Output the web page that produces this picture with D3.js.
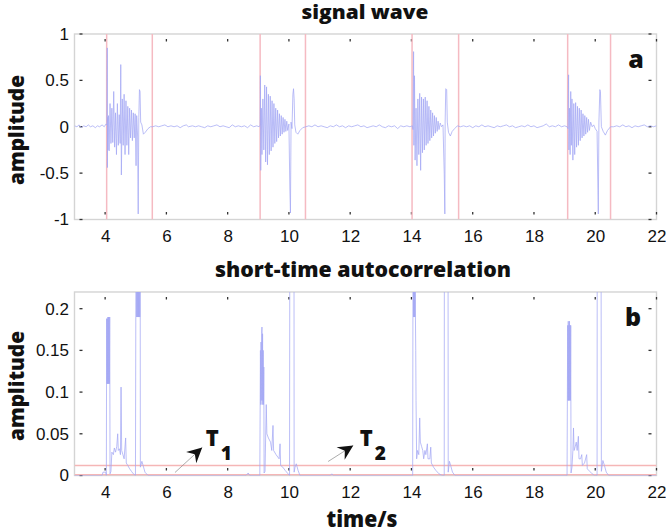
<!DOCTYPE html>
<html><head><meta charset="utf-8">
<script src="https://cdn.jsdelivr.net/npm/d3@7"></script>
<style>body{margin:0;background:#fff}</style>
</head><body>
<svg id="c" width="666" height="532" xmlns="http://www.w3.org/2000/svg"></svg>
<script>
// ---------- data ----------
const xTicks = [4,6,8,10,12,14,16,18,20,22];
const yTicksA = [-1,-0.5,0,0.5,1];
const yTicksB = [0,0.05,0.1,0.15,0.2];
const onsetLines = [4.05,5.54,9.06,10.54,14.02,15.54,19.10,20.50];
const thresholds = [0.001,0.012];

const signalWave = [
[3.00,0.01],[3.08,0.00],[3.15,0.02],[3.22,-0.01],[3.30,0.01],[3.38,0.00],[3.45,0.02],[3.52,0.00],[3.60,0.01],[3.68,-0.01],[3.75,0.01],[3.82,0.00],[3.90,0.02],[3.97,0.00],[4.03,0.03],
[4.06,0.02],[4.07,0.85],[4.075,-0.44],[4.08,0.10],[4.09,-0.25],[4.11,0.12],[4.13,-0.26],[4.16,0.25],[4.19,-0.18],[4.22,0.20],[4.25,-0.17],[4.28,0.38],[4.31,-0.22],[4.34,0.15],[4.37,-0.30],[4.40,0.25],[4.43,-0.20],[4.46,0.13],[4.49,-0.18],[4.51,0.67],[4.53,-0.52],[4.56,0.30],[4.59,-0.20],[4.62,0.35],[4.65,-0.30],[4.68,0.28],[4.71,-0.20],[4.74,0.22],[4.77,-0.30],[4.80,0.20],[4.83,-0.12],[4.86,0.18],[4.89,-0.15],[4.92,0.15],[4.95,-0.12],[4.98,0.14],[5.01,-0.42],[5.03,0.12],[5.06,-0.10],[5.08,-0.94],[5.10,0.10],[5.12,0.40],[5.14,0.38],[5.16,0.05],[5.20,0.02],[5.25,-0.08],[5.31,-0.06],[5.40,-0.02],[5.48,0.00],
[5.55,0.00],[5.65,0.01],[5.75,0.00],[5.85,0.01],[5.95,0.02],[6.05,0.00],[6.15,0.01],[6.25,0.00],[6.35,0.01],[6.45,-0.01],[6.55,0.01],[6.65,0.02],[6.72,0.00],[6.85,0.01],[6.95,0.00],[7.05,0.01],[7.15,0.00],[7.25,-0.01],[7.35,0.01],[7.45,0.00],[7.55,0.01],[7.65,0.02],[7.75,0.00],[7.85,0.01],[7.95,0.00],[8.05,-0.01],[8.15,0.02],[8.25,0.00],[8.35,0.01],[8.45,0.00],[8.55,0.01],[8.65,-0.01],[8.75,0.02],[8.85,0.00],[8.95,0.01],[9.03,0.00],
[9.06,0.02],[9.07,0.55],[9.08,-0.47],[9.10,0.20],[9.12,-0.30],[9.15,0.30],[9.18,-0.25],[9.21,0.45],[9.24,-0.38],[9.27,0.43],[9.30,-0.41],[9.33,0.35],[9.36,-0.30],[9.39,0.33],[9.42,-0.26],[9.45,0.28],[9.48,-0.22],[9.51,0.25],[9.54,-0.18],[9.57,0.20],[9.60,-0.16],[9.63,0.18],[9.66,-0.12],[9.69,0.14],[9.72,-0.10],[9.75,0.12],[9.78,-0.08],[9.81,0.10],[9.84,-0.06],[9.87,0.08],[9.90,-0.05],[9.93,0.06],[9.96,-0.04],[10.00,0.03],[10.03,-0.65],[10.05,-0.93],[10.07,0.05],[10.10,-0.02],[10.13,0.35],[10.15,0.41],[10.17,0.30],[10.19,0.02],[10.23,-0.06],[10.29,-0.08],[10.36,-0.04],[10.45,-0.01],
[10.55,0.00],[10.65,0.01],[10.75,0.00],[10.85,0.02],[10.95,0.00],[11.05,0.01],[11.15,0.00],[11.25,-0.01],[11.35,0.01],[11.45,0.00],[11.55,0.02],[11.65,0.00],[11.75,0.01],[11.85,-0.01],[11.95,0.01],[12.05,0.00],[12.15,0.01],[12.25,0.02],[12.35,0.00],[12.45,0.01],[12.55,-0.01],[12.65,0.00],[12.75,0.01],[12.85,0.00],[12.95,0.02],[13.05,0.00],[13.15,-0.01],[13.25,0.01],[13.35,0.00],[13.45,0.01],[13.55,-0.02],[13.65,0.01],[13.75,0.00],[13.85,0.01],[13.95,0.00],
[14.03,0.01],[14.05,-0.03],[14.07,0.81],[14.08,-0.20],[14.10,0.55],[14.12,-0.36],[14.15,0.20],[14.18,-0.42],[14.21,0.30],[14.24,-0.30],[14.27,0.36],[14.30,-0.47],[14.33,0.32],[14.36,-0.28],[14.39,0.30],[14.42,-0.25],[14.45,0.32],[14.48,-0.20],[14.51,0.28],[14.54,-0.18],[14.57,0.22],[14.60,-0.15],[14.63,0.18],[14.66,-0.12],[14.69,0.15],[14.72,-0.10],[14.75,0.12],[14.78,-0.07],[14.81,0.10],[14.84,-0.05],[14.87,0.06],[14.90,-0.03],[14.94,0.04],[14.98,0.00],[15.03,0.02],[15.07,-0.50],[15.09,-0.94],[15.10,0.05],[15.12,0.41],[15.15,0.40],[15.17,0.05],[15.21,-0.06],[15.27,-0.10],[15.33,-0.05],[15.41,-0.02],[15.50,0.01],
[15.60,0.00],[15.70,0.01],[15.80,0.00],[15.90,0.01],[16.00,-0.01],[16.10,0.01],[16.20,0.00],[16.30,0.02],[16.40,0.00],[16.50,0.01],[16.60,0.00],[16.70,-0.01],[16.80,0.01],[16.90,0.00],[17.00,0.01],[17.10,0.02],[17.20,0.00],[17.30,0.01],[17.40,-0.01],[17.50,0.00],[17.60,0.01],[17.70,0.00],[17.80,0.02],[17.90,0.00],[18.00,0.01],[18.10,-0.01],[18.20,0.00],[18.30,0.01],[18.40,0.03],[18.50,0.00],[18.60,0.01],[18.70,0.00],[18.80,0.02],[18.90,0.00],[19.00,0.01],[19.08,0.00],
[19.11,-0.02],[19.13,0.56],[19.14,-0.25],[19.16,0.20],[19.18,-0.30],[19.20,0.38],[19.22,-0.20],[19.24,0.30],[19.27,-0.36],[19.30,0.25],[19.33,-0.30],[19.36,0.26],[19.39,-0.22],[19.42,0.22],[19.45,-0.20],[19.48,0.20],[19.51,-0.15],[19.54,0.18],[19.57,-0.12],[19.60,0.14],[19.63,-0.10],[19.66,0.12],[19.69,-0.08],[19.72,0.10],[19.75,-0.06],[19.78,0.08],[19.81,-0.04],[19.85,0.05],[19.90,0.00],[19.95,0.02],[20.00,-0.02],[20.06,-0.05],[20.10,-0.94],[20.12,0.05],[20.15,0.40],[20.17,0.38],[20.20,0.00],[20.26,-0.05],[20.33,-0.09],[20.40,-0.04],[20.50,0.00],
[20.60,0.00],[20.70,0.01],[20.80,0.00],[20.90,0.02],[21.00,0.00],[21.10,0.01],[21.20,-0.01],[21.30,0.01],[21.40,0.00],[21.50,0.01],[21.60,0.02],[21.70,0.00],[21.80,0.01],[21.90,0.00],[22.00,0.01]
];

const autocorr = [
[3.00,0],[3.90,0],[3.93,0.004],[4.02,0.004],[4.04,0],
[4.05,0.188],[4.06,0.11],[4.07,0.188],[4.08,0.11],[4.09,0.19],[4.10,0.11],[4.11,0.19],[4.12,0.11],[4.13,0.19],[4.14,0.11],[4.15,0.19],[4.16,0.002],
[4.19,0.005],[4.22,0.028],[4.27,0.025],[4.30,0.033],[4.34,0.028],[4.38,0.035],[4.41,0.05],[4.43,0.03],[4.47,0.032],[4.50,0.025],[4.52,0.106],[4.54,0.03],[4.58,0.025],[4.62,0.02],[4.67,0.045],[4.69,0.015],[4.74,0.012],[4.80,0.008],[4.86,0.005],[4.92,0.002],[4.99,0.0],
[5.02,0.5],[5.03,0.19],[5.04,0.5],[5.05,0.19],[5.06,0.5],[5.07,0.19],[5.08,0.5],[5.09,0.19],[5.10,0.5],[5.11,0.19],[5.12,0.5],[5.13,0.19],[5.14,0.5],[5.15,0.01],[5.20,0.017],[5.24,0.012],[5.30,0.004],[5.40,0.0],
[8.60,0.0],[8.67,0.003],[8.72,0.0],
[9.05,0.0],[9.07,0.15],[9.08,0.085],[9.09,0.16],[9.10,0.09],[9.11,0.17],[9.12,0.178],[9.13,0.085],[9.14,0.17],[9.15,0.09],[9.16,0.15],[9.17,0.085],[9.18,0.13],[9.19,0.003],[9.22,0.005],[9.26,0.085],[9.28,0.05],[9.33,0.045],[9.40,0.04],[9.44,0.03],[9.48,0.06],[9.50,0.03],[9.58,0.025],[9.68,0.02],[9.71,0.038],[9.73,0.012],[9.80,0.01],[9.88,0.006],[9.95,0.003],[10.02,0.0],
[10.04,0.6],[10.16,0.6],[10.17,0.004],[10.20,0.01],[10.24,0.014],[10.30,0.006],[10.36,0.0],
[11.35,0.0],[11.40,0.002],[11.45,0.0],
[14.04,0.0],[14.06,0.5],[14.07,0.19],[14.08,0.5],[14.09,0.19],[14.10,0.5],[14.11,0.19],[14.12,0.5],[14.13,0.19],[14.14,0.15],[14.15,0.09],[14.17,0.02],[14.20,0.03],[14.24,0.025],[14.27,0.069],[14.29,0.04],[14.33,0.035],[14.37,0.03],[14.40,0.02],[14.44,0.03],[14.47,0.025],[14.52,0.038],[14.54,0.02],[14.60,0.02],[14.63,0.034],[14.65,0.015],[14.72,0.01],[14.80,0.006],[14.90,0.002],[15.00,0.0],
[15.07,0.0],[15.08,0.6],[15.19,0.6],[15.20,0.004],[15.24,0.017],[15.28,0.012],[15.34,0.004],[15.42,0.0],
[19.08,0.0],[19.10,0.18],[19.11,0.09],[19.12,0.185],[19.13,0.09],[19.14,0.18],[19.15,0.09],[19.16,0.185],[19.17,0.09],[19.18,0.18],[19.19,0.09],[19.20,0.18],[19.21,0.003],[19.24,0.01],[19.27,0.03],[19.29,0.057],[19.31,0.03],[19.35,0.035],[19.38,0.04],[19.41,0.03],[19.45,0.047],[19.47,0.02],[19.52,0.02],[19.56,0.025],[19.58,0.012],[19.65,0.015],[19.72,0.025],[19.74,0.008],[19.82,0.005],[19.90,0.002],[19.97,0.0],
[20.06,0.0],[20.07,0.6],[20.18,0.6],[20.20,0.005],[20.25,0.018],[20.30,0.012],[20.36,0.004],[20.44,0.0],[22.00,0.0]
];

const annotations = [
  {label:"T", sub:"1", from:[6.28,0.0036], to:[7.17,0.0336], tx:7.35, ty:0.037},
  {label:"T", sub:"2", from:[11.28,0.0168], to:[12.10,0.036], tx:12.38, ty:0.037}
];

// ---------- layout ----------
const svg = d3.select("#c");
const L = 74.5, R = 656.5;
const panelA = {top:34, bottom:219.5};
const panelB = {top:292, bottom:475.5};
const x = d3.scaleLinear().domain([3,22]).range([L,R]);
const yA = d3.scaleLinear().domain([-1,1]).range([panelA.bottom, panelA.top]);
const yB = d3.scaleLinear().domain([0,0.22]).range([panelB.bottom, panelB.top]);

const tickFont = "'Liberation Sans', Arial, sans-serif";
const boldFont = "'Open Sans', 'DejaVu Sans', sans-serif";

function panel(id, p, y, yTicks, yFmt) {
  const g = svg.append("g");
  svg.append("defs").append("clipPath").attr("id", id)
    .append("rect").attr("x", L).attr("y", p.top).attr("width", R-L).attr("height", p.bottom-p.top);
  g.append("rect").attr("x", L).attr("y", p.top).attr("width", R-L).attr("height", p.bottom-p.top)
    .attr("fill", "none").attr("stroke", "#d4d4d4").attr("stroke-width", 1.4);
  const ax = g.append("g").attr("transform", `translate(0,${p.bottom})`)
    .call(d3.axisBottom(x).tickValues(xTicks).tickSize(0).tickPadding(10.5).tickFormat(d3.format("d")));
  ax.select(".domain").remove();
  ax.selectAll("text").attr("font-size", 17).attr("font-family", tickFont).attr("fill", "#111");
  const ay = g.append("g").attr("transform", `translate(${L},0)`)
    .call(d3.axisLeft(y).tickValues(yTicks).tickSize(0).tickPadding(5.5).tickFormat(yFmt));
  ay.select(".domain").remove();
  ay.selectAll("text").attr("font-size", 17).attr("font-family", tickFont).attr("fill", "#111");
  const tk = g.append("g").attr("stroke", "#333").attr("stroke-width", 1.3);
  xTicks.forEach(t => {
    const xx = x(t);
    tk.append("line").attr("x1", xx).attr("x2", xx).attr("y1", p.top+5).attr("y2", p.top+7.5);
    tk.append("line").attr("x1", xx).attr("x2", xx).attr("y1", p.bottom-5).attr("y2", p.bottom-7.5);
  });
  yTicks.forEach(v => {
    const yy = y(v);
    tk.append("line").attr("x1", L+5).attr("x2", L+8).attr("y1", yy).attr("y2", yy);
    tk.append("line").attr("x1", R-5).attr("x2", R-8).attr("y1", yy).attr("y2", yy);
  });
  return g.append("g").attr("clip-path", `url(#${id})`);
}

const gA = panel("clipA", panelA, yA, yTicksA, d => d === 0 ? "0" : String(d));
const gB = panel("clipB", panelB, yB, yTicksB, d => d === 0 ? "0" : String(d));

// red onset lines (panel a)
gA.selectAll("line.onset").data(onsetLines).join("line").attr("class", "onset")
  .attr("x1", d => x(d)).attr("x2", d => x(d))
  .attr("y1", panelA.top).attr("y2", panelA.bottom)
  .attr("stroke", "#f5bac2").attr("stroke-width", 1.5);

// signal wave
gA.append("path").datum(signalWave)
  .attr("d", d3.line().x(d => x(d[0])).y(d => yA(d[1])))
  .attr("fill", "none").attr("stroke", "#a4a8f4").attr("stroke-width", 0.75);

// threshold lines (panel b)
gB.selectAll("line.th").data(thresholds).join("line").attr("class", "th")
  .attr("x1", L).attr("x2", R)
  .attr("y1", d => yB(d)).attr("y2", d => yB(d))
  .attr("stroke", "#f5b6b6").attr("stroke-width", 1.5);

// autocorrelation
gB.append("path").datum(autocorr)
  .attr("d", d3.line().x(d => x(d[0])).y(d => yB(d[1])))
  .attr("fill", "none").attr("stroke", "#a4a8f4").attr("stroke-width", 0.75);

// annotations
annotations.forEach(a => {
  const x0 = x(a.from[0]), y0 = yB(a.from[1]);
  const x1 = x(a.to[0]), y1 = yB(a.to[1]);
  svg.append("line").attr("x1", x0).attr("y1", y0).attr("x2", x1).attr("y2", y1)
    .attr("stroke", "#888").attr("stroke-width", 0.7);
  const dx = x1 - x0, dy = y1 - y0, len = Math.hypot(dx, dy);
  const ux = dx/len, uy = dy/len, nx = -uy, ny = ux;
  const hl = 15, hw = 7.5, nb = 10;
  const pts = [
    [x1, y1],
    [x1 - ux*hl + nx*hw, y1 - uy*hl + ny*hw],
    [x1 - ux*nb, y1 - uy*nb],
    [x1 - ux*hl - nx*hw, y1 - uy*hl - ny*hw]
  ];
  svg.append("polygon").attr("points", pts.map(p => p.join(",")).join(" ")).attr("fill", "#111");
  const t = svg.append("text").attr("x", x(a.tx) - 2).attr("y", yB(a.ty) + 1)
    .attr("font-family", boldFont).attr("font-weight", 800).attr("font-size", 22).attr("fill", "#111");
  t.append("tspan").text(a.label);
  t.append("tspan").attr("dy", 14).attr("dx", 2).attr("font-size", 19).text(a.sub);
});

// titles and labels
function btext(txt, xx, yy, size, len, rot) {
  const t = svg.append("text").attr("font-family", boldFont).attr("font-weight", 800)
    .attr("font-size", size).attr("fill", "#111").attr("text-anchor", "middle").text(txt);
  if (rot) t.attr("transform", `translate(${xx},${yy}) rotate(-90)`);
  else t.attr("x", xx).attr("y", yy);
  if (len) t.attr("textLength", len).attr("lengthAdjust", "spacingAndGlyphs");
  return t;
}
btext("signal wave", 365, 19, 19, 127);
btext("short-time autocorrelation", 363, 277, 21, 296);
btext("time/s", 362, 527, 22, 71);
btext("amplitude", 23.5, 130, 21, 110, true);
btext("amplitude", 23.5, 386, 21, 110, true);
btext("a", 636, 68, 25);
btext("b", 633, 326, 25);
</script>
</body></html>
